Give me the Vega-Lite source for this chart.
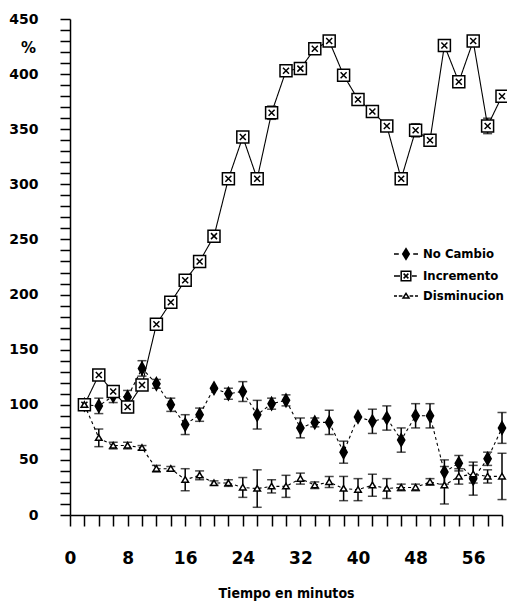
{
  "$schema": "https://vega.github.io/schema/vega-lite/v6.json",
  "width": 432,
  "height": 496,
  "autosize": "none",
  "padding": {"left": 70, "top": 19, "right": 5, "bottom": 87},
  "background": "white",
  "config": {
    "view": {"stroke": null},
    "axis": {"grid": false, "domainColor": "black", "tickColor": "black", "labelColor": "black", "titleColor": "black", "domainWidth": 1.5, "tickWidth": 1.5}
  },
  "data": {
    "values": [
      {"t": 2, "s": "No Cambio", "v": 100, "e": 0},
      {"t": 4, "s": "No Cambio", "v": 99, "e": 7},
      {"t": 6, "s": "No Cambio", "v": 108, "e": 6},
      {"t": 8, "s": "No Cambio", "v": 107, "e": 6},
      {"t": 10, "s": "No Cambio", "v": 133, "e": 7},
      {"t": 12, "s": "No Cambio", "v": 119, "e": 4},
      {"t": 14, "s": "No Cambio", "v": 100, "e": 6},
      {"t": 16, "s": "No Cambio", "v": 82, "e": 9},
      {"t": 18, "s": "No Cambio", "v": 91, "e": 6},
      {"t": 20, "s": "No Cambio", "v": 115, "e": 0},
      {"t": 22, "s": "No Cambio", "v": 110, "e": 5},
      {"t": 24, "s": "No Cambio", "v": 112, "e": 9},
      {"t": 26, "s": "No Cambio", "v": 91, "e": 13},
      {"t": 28, "s": "No Cambio", "v": 101, "e": 5},
      {"t": 30, "s": "No Cambio", "v": 104, "e": 5},
      {"t": 32, "s": "No Cambio", "v": 79, "e": 9},
      {"t": 34, "s": "No Cambio", "v": 84, "e": 4},
      {"t": 36, "s": "No Cambio", "v": 84, "e": 11},
      {"t": 38, "s": "No Cambio", "v": 57, "e": 10},
      {"t": 40, "s": "No Cambio", "v": 89, "e": 0},
      {"t": 42, "s": "No Cambio", "v": 85, "e": 11},
      {"t": 44, "s": "No Cambio", "v": 88, "e": 11},
      {"t": 46, "s": "No Cambio", "v": 68, "e": 11},
      {"t": 48, "s": "No Cambio", "v": 90, "e": 11},
      {"t": 50, "s": "No Cambio", "v": 90, "e": 11},
      {"t": 52, "s": "No Cambio", "v": 39, "e": 11},
      {"t": 54, "s": "No Cambio", "v": 47, "e": 7},
      {"t": 56, "s": "No Cambio", "v": 33, "e": 15},
      {"t": 58, "s": "No Cambio", "v": 51, "e": 6},
      {"t": 60, "s": "No Cambio", "v": 79, "e": 14},
      {"t": 2, "s": "Incremento", "v": 100, "e": 0},
      {"t": 4, "s": "Incremento", "v": 127, "e": 0},
      {"t": 6, "s": "Incremento", "v": 112, "e": 5},
      {"t": 8, "s": "Incremento", "v": 98, "e": 5},
      {"t": 10, "s": "Incremento", "v": 118, "e": 0},
      {"t": 12, "s": "Incremento", "v": 173, "e": 0},
      {"t": 14, "s": "Incremento", "v": 193, "e": 0},
      {"t": 16, "s": "Incremento", "v": 213, "e": 0},
      {"t": 18, "s": "Incremento", "v": 230, "e": 0},
      {"t": 20, "s": "Incremento", "v": 253, "e": 5},
      {"t": 22, "s": "Incremento", "v": 305, "e": 0},
      {"t": 24, "s": "Incremento", "v": 343, "e": 0},
      {"t": 26, "s": "Incremento", "v": 305, "e": 0},
      {"t": 28, "s": "Incremento", "v": 365, "e": 6},
      {"t": 30, "s": "Incremento", "v": 403, "e": 0},
      {"t": 32, "s": "Incremento", "v": 405, "e": 0},
      {"t": 34, "s": "Incremento", "v": 423, "e": 0},
      {"t": 36, "s": "Incremento", "v": 430, "e": 0},
      {"t": 38, "s": "Incremento", "v": 399, "e": 0},
      {"t": 40, "s": "Incremento", "v": 377, "e": 0},
      {"t": 42, "s": "Incremento", "v": 366, "e": 0},
      {"t": 44, "s": "Incremento", "v": 353, "e": 0},
      {"t": 46, "s": "Incremento", "v": 305, "e": 0},
      {"t": 48, "s": "Incremento", "v": 349, "e": 6},
      {"t": 50, "s": "Incremento", "v": 340, "e": 5},
      {"t": 52, "s": "Incremento", "v": 426, "e": 0},
      {"t": 54, "s": "Incremento", "v": 393, "e": 4},
      {"t": 56, "s": "Incremento", "v": 430, "e": 0},
      {"t": 58, "s": "Incremento", "v": 353, "e": 7},
      {"t": 60, "s": "Incremento", "v": 380, "e": 0},
      {"t": 2, "s": "Disminucion", "v": 100, "e": 0},
      {"t": 4, "s": "Disminucion", "v": 70, "e": 8},
      {"t": 6, "s": "Disminucion", "v": 63, "e": 3},
      {"t": 8, "s": "Disminucion", "v": 63, "e": 3},
      {"t": 10, "s": "Disminucion", "v": 61, "e": 2},
      {"t": 12, "s": "Disminucion", "v": 42, "e": 3},
      {"t": 14, "s": "Disminucion", "v": 42, "e": 2},
      {"t": 16, "s": "Disminucion", "v": 32, "e": 10},
      {"t": 18, "s": "Disminucion", "v": 36, "e": 4},
      {"t": 20, "s": "Disminucion", "v": 29, "e": 2},
      {"t": 22, "s": "Disminucion", "v": 29, "e": 3},
      {"t": 24, "s": "Disminucion", "v": 25, "e": 9},
      {"t": 26, "s": "Disminucion", "v": 24, "e": 17},
      {"t": 28, "s": "Disminucion", "v": 26, "e": 6},
      {"t": 30, "s": "Disminucion", "v": 26, "e": 10},
      {"t": 32, "s": "Disminucion", "v": 33, "e": 5},
      {"t": 34, "s": "Disminucion", "v": 27, "e": 3},
      {"t": 36, "s": "Disminucion", "v": 30, "e": 5},
      {"t": 38, "s": "Disminucion", "v": 24, "e": 11},
      {"t": 40, "s": "Disminucion", "v": 23, "e": 10},
      {"t": 42, "s": "Disminucion", "v": 27, "e": 10},
      {"t": 44, "s": "Disminucion", "v": 24, "e": 9},
      {"t": 46, "s": "Disminucion", "v": 25, "e": 3},
      {"t": 48, "s": "Disminucion", "v": 25, "e": 3},
      {"t": 50, "s": "Disminucion", "v": 30, "e": 3},
      {"t": 52, "s": "Disminucion", "v": 27, "e": 17},
      {"t": 54, "s": "Disminucion", "v": 35, "e": 7},
      {"t": 56, "s": "Disminucion", "v": 37, "e": 8},
      {"t": 58, "s": "Disminucion", "v": 35, "e": 6},
      {"t": 60, "s": "Disminucion", "v": 35, "e": 21}
    ]
  },
  "encoding": {
    "x": {
      "field": "t", "type": "quantitative",
      "scale": {"domain": [0, 60], "nice": false},
      "axis": {
        "values": [0, 2, 4, 6, 8, 10, 12, 14, 16, 18, 20, 22, 24, 26, 28, 30, 32, 34, 36, 38, 40, 42, 44, 46, 48, 50, 52, 54, 56, 58, 60],
        "labelExpr": "datum.value % 8 === 0 ? datum.label : ''",
        "tickSize": 11,
        "encode": {"ticks": {"update": {"y2": {"signal": "datum.value % 8 === 0 ? 11 : 6"}}}},
        "labelPadding": 24,
        "labelFont": "DejaVu Sans", "labelFontWeight": "bold", "labelFontSize": 17,
        "labelOverlap": false, "labelBound": false, "labelFlush": false,
        "title": "Tiempo en minutos",
        "titleFont": "DejaVu Sans Condensed", "titleFontWeight": "bold", "titleFontSize": 14,
        "titlePadding": 20
      }
    },
    "y": {
      "field": "v", "type": "quantitative",
      "scale": {"domain": [0, 450], "nice": false},
      "axis": {
        "values": [0, 10, 20, 30, 40, 50, 60, 70, 80, 90, 100, 110, 120, 130, 140, 150, 160, 170, 180, 190, 200, 210, 220, 230, 240, 250, 260, 270, 280, 290, 300, 310, 320, 330, 340, 350, 360, 370, 380, 390, 400, 410, 420, 430, 440, 450],
        "labelExpr": "datum.value % 50 === 0 ? datum.label : ''",
        "tickSize": 10,
        "encode": {"ticks": {"update": {"x2": {"signal": "datum.value % 50 === 0 ? -10 : -5"}}}},
        "labelPadding": 22,
        "labelFont": "DejaVu Sans", "labelFontWeight": "bold", "labelFontSize": 14,
        "labelOverlap": false, "labelBound": false, "labelFlush": false,
        "title": "%", "titleAngle": 0, "titleX": -42, "titleY": 28,
        "titleAlign": "center", "titleBaseline": "middle",
        "titleFont": "DejaVu Sans", "titleFontWeight": "bold", "titleFontSize": 15
      }
    }
  },
  "resolve": {"scale": {"shape": "independent"}},
  "layer": [
    {
      "mark": {"type": "line", "color": "black", "strokeWidth": 1.1},
      "encoding": {
        "detail": {"field": "s", "type": "nominal"},
        "strokeDash": {
          "field": "s", "type": "nominal",
          "scale": {"domain": ["No Cambio", "Incremento", "Disminucion"], "range": [[3, 3], [1, 0], [3, 3]]},
          "legend": null
        }
      }
    },
    {
      "transform": [{"filter": "datum.e > 0"}],
      "mark": {"type": "errorbar", "color": "black", "thickness": 1.5, "ticks": {"size": 9, "thickness": 1.5, "color": "black"}},
      "encoding": {
        "yError": {"field": "e"},
        "detail": {"field": "s", "type": "nominal"}
      }
    },
    {
      "mark": {"type": "point", "filled": true, "stroke": "black", "strokeWidth": 1.5, "opacity": 1, "size": 144},
      "encoding": {
        "shape": {
          "field": "s", "type": "nominal",
          "scale": {
            "domain": ["No Cambio", "Incremento", "Disminucion"],
            "range": ["M0,-1.05L0.6,0L0,1.05L-0.6,0Z", "M-1,-1H1V1H-1ZM-0.5,-0.5L0.5,0.5M0.5,-0.5L-0.5,0.5", "M0,-0.5L0.55,0.42H-0.55Z"]
          },
          "legend": null
        },
        "fill": {
          "field": "s", "type": "nominal",
          "scale": {"domain": ["No Cambio", "Incremento", "Disminucion"], "range": ["black", "white", "white"]},
          "legend": null
        }
      }
    },
    {
      "transform": [{"filter": "datum.t < 0"}],
      "mark": {"type": "point", "filled": false, "color": "black", "strokeWidth": 1.5, "opacity": 1, "size": 144},
      "encoding": {
        "shape": {
          "field": "s", "type": "nominal",
          "scale": {
            "domain": ["No Cambio", "Incremento", "Disminucion"],
            "range": [
              "M-2,0H-1.2M0,-0.9L0.55,0L0,0.9L-0.55,0ZM0,-0.6L0.36,0L0,0.6L-0.36,0ZM0,-0.3L0.18,0L0,0.3L-0.18,0ZM0,-0.9V0.9M-0.45,0H0.45M1.2,0H2",
              "M-2,0H-1M-0.8,-0.8H0.8V0.8H-0.8ZM-0.4,-0.4L0.4,0.4M0.4,-0.4L-0.4,0.4M1,0H1.8",
              "M-2,0H-1.5M-1.2,0H-0.6M0,-0.45L0.5,0.35H-0.5ZM0.6,0H1.2M1.5,0H2"
            ]
          },
          "legend": {
            "orient": "none", "legendX": 329, "legendY": 228,
            "title": null,
            "symbolSize": 144, "labelOffset": 10, "rowPadding": 5,
            "symbolOpacity": 1, "symbolStrokeColor": "black", "symbolStrokeWidth": 1.5,
            "labelFont": "DejaVu Sans Condensed", "labelFontWeight": "bold", "labelFontSize": 13, "labelColor": "black"
          }
        }
      }
    }
  ]
}
